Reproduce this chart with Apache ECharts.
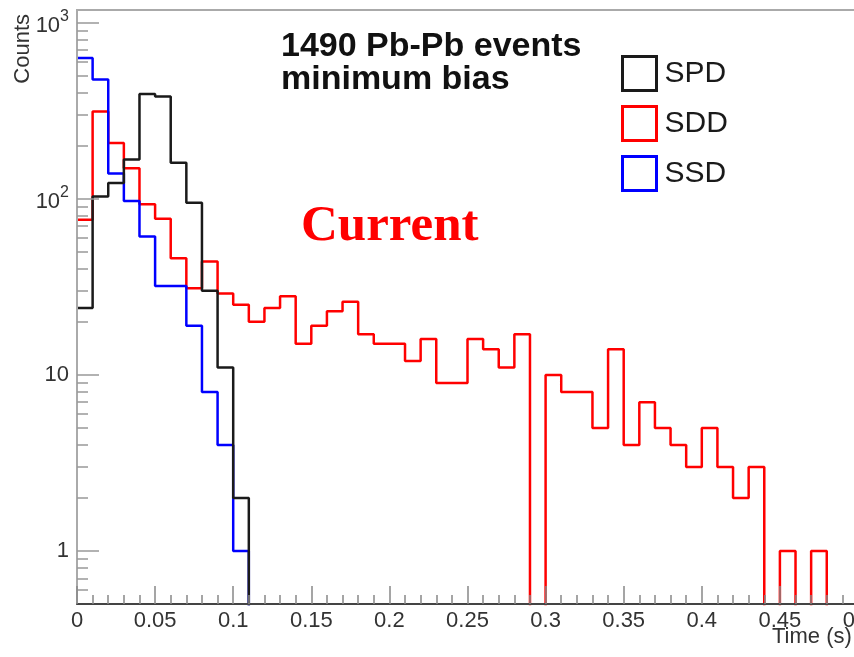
<!DOCTYPE html>
<html>
<head>
<meta charset="utf-8">
<script src="https://cdn.jsdelivr.net/npm/echarts@6/dist/echarts.min.js"></script>
<style>html,body{margin:0;padding:0;background:#fff}#c{width:854px;height:657px}</style>
</head>
<body>
<div id="c"></div>
<script>
// ---- data (histogram bins of width 0.01 s, starting at 0) ----
const binWidth = 0.01;
const seriesNames = ['SPD', 'SDD', 'SSD'];
const spdCounts = [24, 103, 123, 167, 394, 381, 160, 95, 30, 11,
                   2, 0, 0, 0, 0, 0, 0, 0, 0, 0,
                   0, 0, 0, 0, 0, 0, 0, 0, 0, 0,
                   0, 0, 0, 0, 0, 0, 0, 0, 0, 0,
                   0, 0, 0, 0, 0, 0, 0, 0, 0, 0];
const sddCounts = [76, 313, 207, 149, 93, 77, 46, 31, 44, 29,
                   25, 20, 24, 28, 15, 19, 23, 26, 17, 15,
                   15, 12, 16, 9, 9, 16, 14, 11, 17, 0,
                   10, 8, 8, 5, 14, 4, 7, 5, 4, 3,
                   5, 3, 2, 3, 0, 1, 0, 1, 0, 0];
const ssdCounts = [630, 475, 139, 97, 61, 32, 32, 19, 8, 4,
                   1, 0, 0, 0, 0, 0, 0, 0, 0, 0,
                   0, 0, 0, 0, 0, 0, 0, 0, 0, 0,
                   0, 0, 0, 0, 0, 0, 0, 0, 0, 0,
                   0, 0, 0, 0, 0, 0, 0, 0, 0, 0];
const xMin = 0, xMax = 0.5, xInterval = 0.05;
const yMin = 0.5, yMax = 1180;
const yMajorTicks = [1, 10, 100, 1000];
const yMinorTicks = [0.6, 0.7, 0.8, 0.9, 2, 3, 4, 5, 6, 7, 8, 9,
                     20, 30, 40, 50, 60, 70, 80, 90,
                     200, 300, 400, 500, 600, 700, 800, 900];
const titleLines = ['1490 Pb-Pb events', 'minimum bias'];
const stampText = 'Current';
const xTitle = 'Time (s)';
const yTitle = 'Counts';

const colors = {SPD: '#1a1a1a', SDD: '#ff0000', SSD: '#0000ff'};
const SANS = '"Liberation Sans", Arial, Helvetica, sans-serif';
// empty bins fall below the log axis floor and are clipped by the plot frame
const emptyBinValue = 0.05;

function histPoints(counts) {
  const pts = [];
  counts.forEach((c, i) => pts.push([+(i * binWidth).toFixed(4), c > 0 ? c : emptyBinValue]));
  pts.push([+(counts.length * binWidth).toFixed(4), emptyBinValue]);
  return pts;
}

function yLabel(v) {
  if (v === 1) return '{b|1}';
  if (v === 10) return '{b|10}';
  const e = Math.round(Math.log10(v));
  return '{p|10}{s|' + e + '}';
}

const chart = echarts.init(document.getElementById('c'), null, {renderer: 'canvas'});
const countsByName = {SPD: spdCounts, SDD: sddCounts, SSD: ssdCounts};
const drawOrder = ['SDD', 'SSD', 'SPD'];

chart.setOption({
  animation: false,
  backgroundColor: '#fff',
  grid: {
    left: 77, top: 10, right: -4, bottom: 53,
    show: true, borderColor: '#aaaaaa', borderWidth: 2,
    backgroundColor: 'transparent',
    containLabel: false, outerBoundsMode: 'none'
  },
  legend: {
    orient: 'vertical', left: 621, top: 55,
    itemWidth: 34, itemHeight: 34, itemGap: 13,
    icon: 'rect', padding: 0,
    textStyle: {fontSize: 30, color: '#1a1a1a', fontFamily: SANS, padding: [0, 0, 0, 3]},
    data: seriesNames.map(n => ({
      name: n,
      itemStyle: {color: 'rgba(0,0,0,0)', borderColor: colors[n], borderWidth: 3}
    }))
  },
  xAxis: {
    type: 'value', min: xMin, max: xMax, interval: xInterval, z: 5,
    axisLine: {show: true, onZero: false, lineStyle: {color: '#444', width: 2}},
    axisTick: {show: true, inside: true, length: 18, lineStyle: {color: '#888', width: 1.5}},
    minorTick: {show: true, splitNumber: 5, length: 9, lineStyle: {color: '#888', width: 1.5}},
    axisLabel: {fontSize: 22, color: '#333', fontFamily: SANS, margin: 6, hideOverlap: false},
    splitLine: {show: false}
  },
  yAxis: [{
    type: 'log', logBase: 10, min: yMin, max: yMax, z: 5,
    axisLine: {show: true, lineStyle: {color: '#aaaaaa', width: 2}},
    axisTick: {show: true, inside: true, length: 22, customValues: yMajorTicks, lineStyle: {color: '#999', width: 1.5}},
    axisLabel: {
      customValues: yMajorTicks, margin: 8, color: '#333', fontFamily: SANS,
      formatter: yLabel,
      rich: {
        b: {fontSize: 22, fontFamily: SANS, color: '#333'},
        p: {fontSize: 22, fontFamily: SANS, color: '#333', lineHeight: 28, verticalAlign: 'bottom'},
        s: {fontSize: 16, fontFamily: SANS, color: '#333', lineHeight: 16, verticalAlign: 'top'}
      }
    },
    splitLine: {show: false}, minorTick: {show: false}
  }, {
    type: 'log', logBase: 10, min: yMin, max: yMax, position: 'left', z: 5,
    axisLine: {show: false},
    axisTick: {show: true, inside: true, length: 11, customValues: yMinorTicks, lineStyle: {color: '#999', width: 1.5}},
    axisLabel: {show: false},
    splitLine: {show: false}
  }],
  series: drawOrder.map(n => ({
    name: n, type: 'line', step: 'end', yAxisIndex: 0,
    data: histPoints(countsByName[n]),
    showSymbol: false, symbol: 'none', clip: true,
    lineStyle: {color: colors[n], width: 2.5},
    itemStyle: {color: colors[n]},
    emphasis: {disabled: true}
  })),
  graphic: [
    {type: 'text', x: 281, y: 47, style: {text: titleLines[0], font: 'bold 34px ' + SANS, fill: '#111', verticalAlign: 'middle'}},
    {type: 'text', x: 281, y: 80, style: {text: titleLines[1], font: 'bold 34px ' + SANS, fill: '#111', verticalAlign: 'middle'}},
    {type: 'text', x: 301, y: 227, style: {text: stampText, font: 'bold 51px "Liberation Serif", "Times New Roman", serif', fill: '#ff0000', verticalAlign: 'middle'}},
    {type: 'text', x: 23, y: 14, rotation: Math.PI / 2, style: {text: yTitle, font: '22px ' + SANS, fill: '#333', align: 'right', verticalAlign: 'middle'}},
    {type: 'text', x: 772, y: 637, style: {text: xTitle, font: '22px ' + SANS, fill: '#333', verticalAlign: 'middle'}}
  ]
});
</script>
</body>
</html>
